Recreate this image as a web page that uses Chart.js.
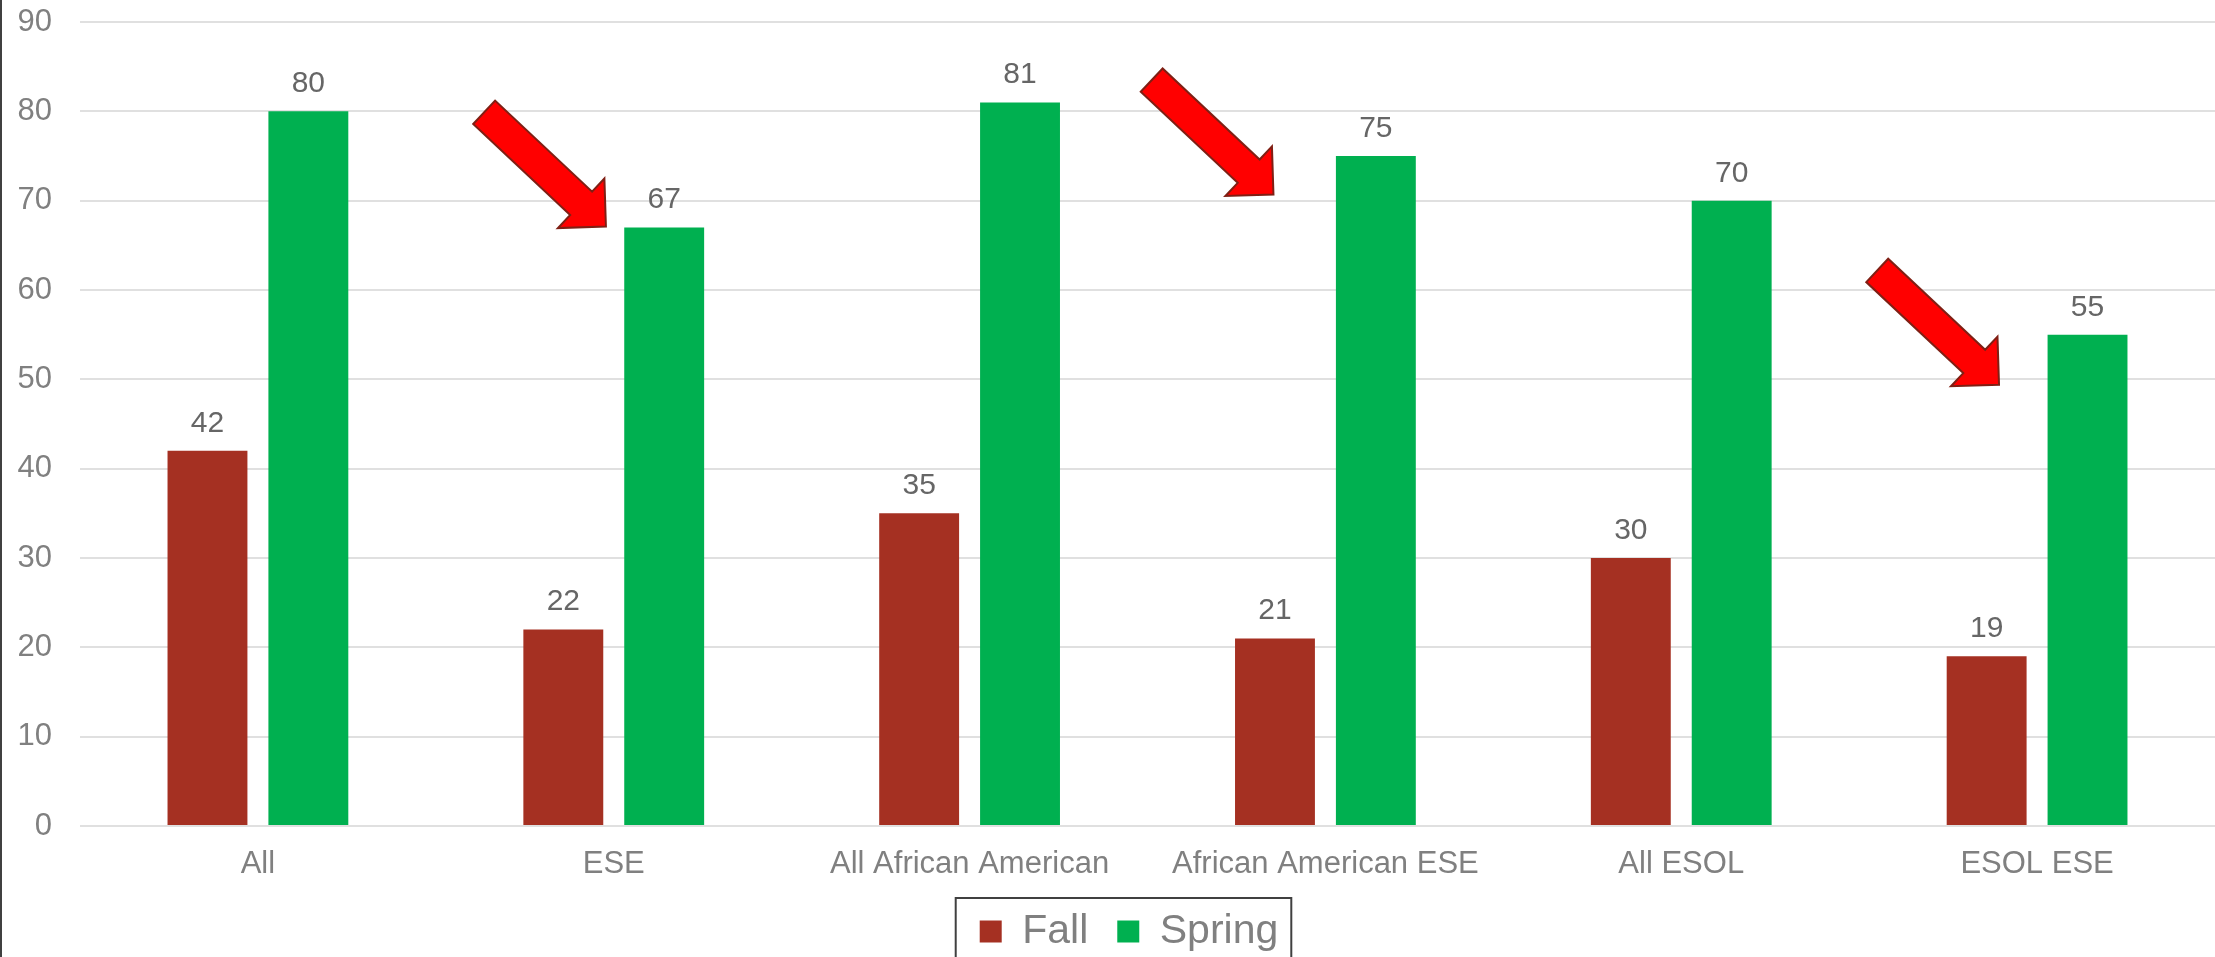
<!DOCTYPE html>
<html>
<head>
<meta charset="utf-8">
<script src="https://cdn.jsdelivr.net/npm/chart.js@4/dist/chart.umd.min.js"></script>
<style>
  html, body { margin: 0; padding: 0; background: #fff; overflow: hidden; }
  #wrap { position: relative; width: 2215px; height: 962px; }
</style>
</head>
<body>
<div id="wrap"><canvas id="scoreChart"></canvas></div>
<script>
// Datos
const categories = ['All', 'ESE', 'All African American', 'African American ESE', 'All ESOL', 'ESOL ESE'];
const fallValues = [42, 22, 35, 21, 30, 19];
const springValues = [80, 67, 81, 75, 70, 55];
const yTicks = [0, 10, 20, 30, 40, 50, 60, 70, 80, 90];

// Flechas: categoría, desplazamiento (en anchos de categoría) y valor donde apunta la punta
const arrowCats = [1, 3, 5];
const arrowShift = [-0.022, -0.146, -0.107];
const arrowValues = [67.1, 70.7, 49.4];

const palette = {
  fall: '#a53022',
  spring: '#00b050',
  tick: '#808080',
  label: '#666666',
  grid: '#e0e0e0',
  frame: '#404040'
};
const FONT = "'Liberation Sans', Arial, sans-serif";

// Etiquetas de valor encima de cada barra
const valueLabels = {
  id: 'valueLabels',
  afterDatasetsDraw(chart) {
    const ctx = chart.ctx;
    ctx.save();
    ctx.font = '30px ' + FONT;
    ctx.fillStyle = palette.label;
    ctx.textAlign = 'center';
    ctx.textBaseline = 'alphabetic';
    chart.data.datasets.forEach((ds, i) => {
      chart.getDatasetMeta(i).data.forEach((bar, j) => {
        ctx.fillText(String(ds.data[j]), bar.x, bar.y - 19);
      });
    });
    ctx.restore();
  }
};

// Flechas rojas, marco izquierdo y recuadro de la leyenda
const decorations = {
  id: 'decorations',
  afterLayout(chart) {
    // que las etiquetas del eje y no se recorten contra el margen izquierdo
    chart.scales.y.left = 0;
  },
  afterDraw(chart) {
    const ctx = chart.ctx;
    const x = chart.scales.x, y = chart.scales.y;
    const catW = (chart.chartArea.right - chart.chartArea.left) / categories.length;

    ctx.save();
    // flechas
    const len = 167, headLen = 34, headHalf = 34, shaftHalf = 16;
    const ang = Math.atan2(114, 121.5);
    arrowCats.forEach((c, k) => {
      const tx = x.getPixelForValue(c) + arrowShift[k] * catW;
      const ty = y.getPixelForValue(arrowValues[k]);
      ctx.save();
      ctx.translate(tx, ty);
      ctx.rotate(ang);
      ctx.beginPath();
      ctx.moveTo(0, 0);
      ctx.lineTo(-headLen, -headHalf);
      ctx.lineTo(-headLen, -shaftHalf);
      ctx.lineTo(-len, -shaftHalf);
      ctx.lineTo(-len, shaftHalf);
      ctx.lineTo(-headLen, shaftHalf);
      ctx.lineTo(-headLen, headHalf);
      ctx.closePath();
      ctx.fillStyle = '#ff0000';
      ctx.fill();
      ctx.lineWidth = 2;
      ctx.strokeStyle = '#7f1f14';
      ctx.lineJoin = 'miter';
      ctx.stroke();
      ctx.restore();
    });

    // marco izquierdo
    ctx.fillStyle = palette.frame;
    ctx.fillRect(0, 0, 2, chart.height);

    // recuadro de la leyenda
    const boxes = chart.legend.legendHitBoxes;
    if (boxes && boxes.length) {
      const first = boxes[0], last = boxes[boxes.length - 1];
      const left = first.left - 24;
      const right = last.left + last.width + 13;
      const top = first.top - 13;
      ctx.strokeStyle = palette.frame;
      ctx.lineWidth = 2;
      ctx.strokeRect(left, top, right - left, chart.height + 20 - top);
    }
    ctx.restore();
  }
};

new Chart(document.getElementById('scoreChart'), {
  type: 'bar',
  data: {
    labels: categories,
    datasets: [
      { label: 'Fall', data: fallValues, backgroundColor: palette.fall, categoryPercentage: 0.567, barPercentage: 0.792 },
      { label: 'Spring', data: springValues, backgroundColor: palette.spring, categoryPercentage: 0.567, barPercentage: 0.792 }
    ]
  },
  options: {
    responsive: true,
    maintainAspectRatio: false,
    animation: false,
    layout: { padding: { left: 43, right: 0, top: 22, bottom: 0 } },
    plugins: {
      tooltip: { enabled: false },
      legend: {
        position: 'bottom',
        labels: {
          color: palette.tick,
          font: { family: FONT, size: 41 },
          boxWidth: 22,
          boxHeight: 22,
          padding: 29
        }
      }
    },
    scales: {
      x: {
        afterFit: (scale) => { scale.height = 56; },
        grid: { display: false, drawTicks: false },
        border: { display: false },
        ticks: { color: palette.tick, font: { family: FONT, size: 31 }, padding: 20, maxRotation: 0, autoSkip: false }
      },
      y: {
        min: 0,
        max: 90,
        afterBuildTicks: (scale) => { scale.ticks = yTicks.map(v => ({ value: v })); },
        afterFit: (scale) => {
          scale.width = 37;
          scale.paddingTop = 0;
          scale.paddingBottom = 0;
        },
        grid: { color: palette.grid, lineWidth: 2, drawTicks: false },
        border: { display: false },
        ticks: { color: palette.tick, font: { family: FONT, size: 31 }, padding: 28 }
      }
    }
  },
  plugins: [valueLabels, decorations]
});
</script>
</body>
</html>
